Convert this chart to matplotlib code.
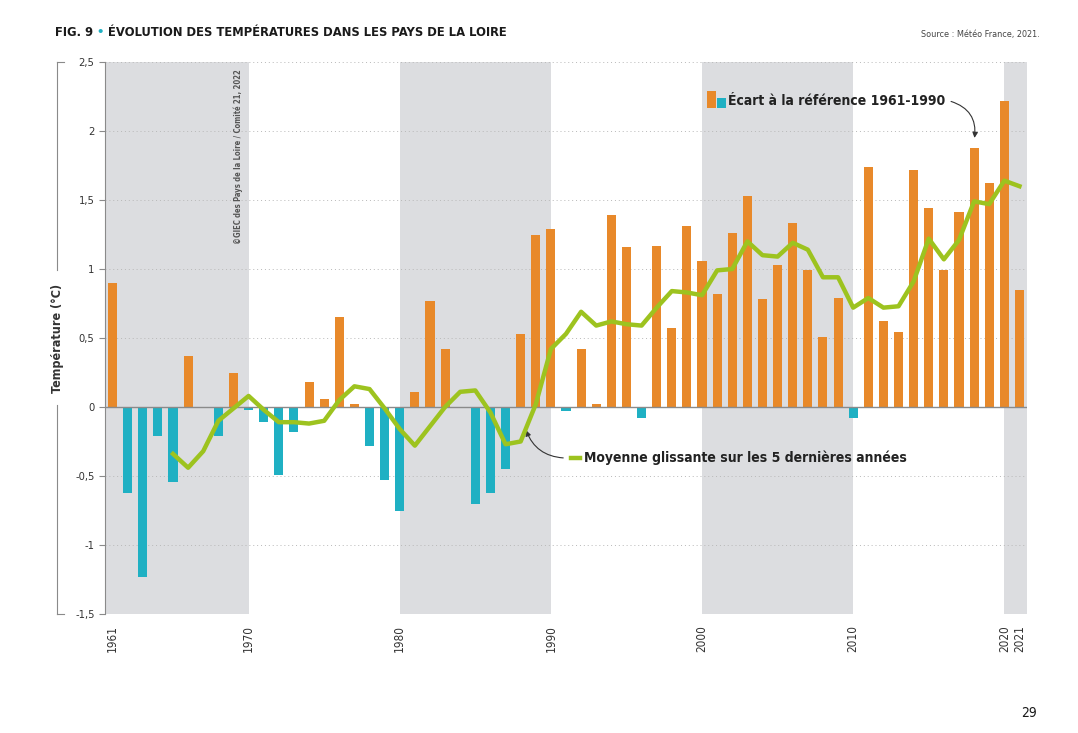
import numpy as np
import matplotlib
matplotlib.use("Agg")
from matplotlib import pyplot as plt

plt.rcParams["font.family"] = ["DejaVu Sans"]
plt.rcParams["font.stretch"] = "condensed"

years = np.arange(1961, 2022)
anomaly = [0.90, -0.62, -1.23, -0.21, -0.54, 0.37, 0.0, -0.21, 0.25, -0.02,
           -0.11, -0.49, -0.18, 0.18, 0.06, 0.65, 0.02, -0.28, -0.53, -0.75,
           0.11, 0.77, 0.42, -0.01, -0.70, -0.62, -0.45, 0.53, 1.25, 1.29,
           -0.03, 0.42, 0.02, 1.39, 1.16, -0.08, 1.17, 0.57, 1.31, 1.06,
           0.82, 1.26, 1.53, 0.78, 1.03, 1.33, 0.99, 0.51, 0.79, -0.08,
           1.74, 0.62, 0.54, 1.72, 1.44, 0.99, 1.41, 1.88, 1.62, 2.22, 0.85]
ma_years = np.arange(1965, 2022)
moving_avg = [-0.34, -0.44, -0.32, -0.10, -0.01, 0.08, -0.02, -0.11, -0.11, -0.12,
              -0.10, 0.05, 0.15, 0.13, -0.01, -0.16, -0.28, -0.14, 0.00, 0.11,
              0.12, -0.04, -0.27, -0.25, 0.02, 0.42, 0.53, 0.69, 0.59, 0.62,
              0.60, 0.59, 0.72, 0.84, 0.83, 0.81, 0.99, 1.00, 1.20, 1.10,
              1.09, 1.19, 1.14, 0.94, 0.94, 0.72, 0.79, 0.72, 0.73, 0.91,
              1.22, 1.07, 1.21, 1.49, 1.47, 1.64, 1.60]
bands = [(1960.5, 1970), (1980, 1990), (2000, 2010), (2020, 2021.5)]
xticks = [1961, 1970, 1980, 1990, 2000, 2010, 2020, 2021]

orange = "#e8892a"
teal = "#1fb0c3"
green = "#9dc31f"

fig = plt.figure(figsize=(10.78, 7.33), dpi=100)
ax = fig.add_axes([105 / 1078, 1 - 614 / 733, (1027 - 105) / 1078, (614 - 62) / 733])

for a, b in bands:
    ax.axvspan(a, b, color="#dcdde0", lw=0, zorder=0)
for v in np.arange(-1.5, 2.51, 0.5):
    if v != 0:
        ax.axhline(v, color="#b8b8b8", lw=0.7, ls=(0, (1, 3)), zorder=1)
ax.axhline(0, color="#8a8a8a", lw=1, zorder=3)

colors = [orange if v >= 0 else teal for v in anomaly]
ax.bar(years, anomaly, width=0.6, color=colors, zorder=2)
ax.plot(ma_years, moving_avg, color=green, lw=3.2, zorder=4, solid_joinstyle="round")

ax.set_xlim(1960.5, 2021.5)
ax.set_ylim(-1.5, 2.5)
ax.set_yticks(np.arange(-1.5, 2.51, 0.5))
ax.set_yticklabels(["-1,5", "-1", "-0,5", "0", "0,5", "1", "1,5", "2", "2,5"], fontsize=8, color="#333333")
ax.set_xticks(xticks)
ax.set_xticklabels([str(y) for y in xticks], rotation=90, fontsize=8.5, color="#333333")
for s in ["top", "right", "bottom"]:
    ax.spines[s].set_visible(False)
ax.spines["left"].set_color("#8a8a8a")
ax.tick_params(axis="y", length=4, color="#8a8a8a")
ax.tick_params(axis="x", length=0, pad=8)

# y label and bracket
fig.text(57 / 1078, 1 - 338 / 733, "Température (°C)", rotation=90, ha="center", va="center",
         fontsize=9, fontweight="bold", color="#333333")
fig.add_artist(plt.Line2D([57 / 1078, 57 / 1078], [1 - 62 / 733, 1 - 270 / 733], color="#8a8a8a", lw=0.8))
fig.add_artist(plt.Line2D([57 / 1078, 57 / 1078], [1 - 405 / 733, 1 - 614 / 733], color="#8a8a8a", lw=0.8))
fig.add_artist(plt.Line2D([57 / 1078, 64 / 1078], [1 - 62 / 733, 1 - 62 / 733], color="#8a8a8a", lw=0.8))
fig.add_artist(plt.Line2D([57 / 1078, 64 / 1078], [1 - 614 / 733, 1 - 614 / 733], color="#8a8a8a", lw=0.8))

# titles
t1 = fig.text(55 / 1078, 1 - 33 / 733, "FIG. 9 ", fontsize=9.3, fontweight="bold", color="#1a1a1a", va="center")
renderer = fig.canvas.get_renderer()
x1 = t1.get_window_extent(renderer).x1
t2 = fig.text(x1 / 1078, 1 - 33 / 733, "• ", fontsize=9.3, fontweight="bold", color=teal, va="center")
x2 = t2.get_window_extent(renderer).x1
fig.text(x2 / 1078, 1 - 33 / 733, "ÉVOLUTION DES TEMPÉRATURES DANS LES PAYS DE LA LOIRE",
         fontsize=9.3, fontweight="bold", color="#1a1a1a", va="center")
fig.text(1040 / 1078, 1 - 35 / 733, "Source : Météo France, 2021.", fontsize=6.5,
         color="#444444", ha="right", va="center")
fig.text(1037 / 1078, 1 - 713 / 733, "29", fontsize=10, color="#1a1a1a", ha="right", va="center")
ax.text(1969.3, 2.45, "©GIEC des Pays de la Loire / Comité 21, 2022", rotation=90,
        fontsize=5.5, color="#555555", ha="center", va="top", fontweight="bold")

# legend annotations
ax.bar([2000.6], [0.12], bottom=2.17, width=0.6, color=orange, zorder=5)
ax.bar([2001.3], [0.07], bottom=2.17, width=0.6, color=teal, zorder=5)
ax.text(2001.7, 2.22, "Écart à la référence 1961-1990", fontsize=10, fontweight="bold",
        color="#222222", va="center")
ax.annotate("", xy=(2018, 1.93), xytext=(2016.3, 2.22),
            arrowprops=dict(arrowstyle="-|>", color="#333333", lw=0.8,
                            connectionstyle="arc3,rad=-0.45", mutation_scale=8))
ax.plot([1991.3, 1991.9], [-0.37, -0.37], color=green, lw=3.2)
ax.text(1992.2, -0.37, "Moyenne glissante sur les 5 dernières années", fontsize=10,
        fontweight="bold", color="#222222", va="center")
ax.annotate("", xy=(1988.3, -0.15), xytext=(1991.0, -0.37),
            arrowprops=dict(arrowstyle="-|>", color="#333333", lw=0.8,
                            connectionstyle="arc3,rad=-0.35", mutation_scale=8))

fig.savefig("out.png", dpi=100)
